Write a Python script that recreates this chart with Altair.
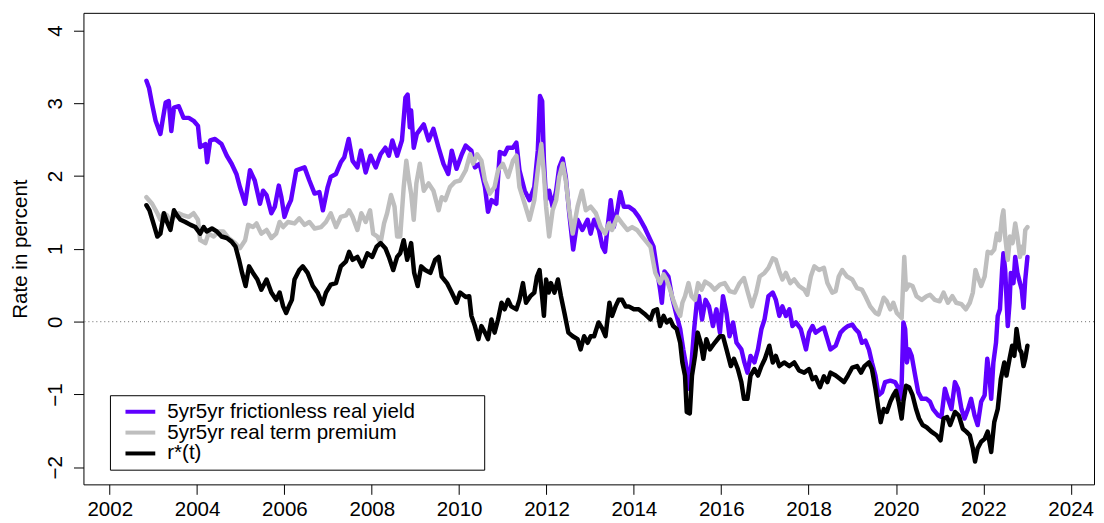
import altair as alt
import pandas as pd

# ---- data ----
fy_years = [2002.84, 2002.90, 2002.97, 2003.05, 2003.16, 2003.22, 2003.28, 2003.35, 2003.41, 2003.47,
            2003.58, 2003.69, 2003.81, 2003.92, 2004.02, 2004.07, 2004.19, 2004.23, 2004.30, 2004.41,
            2004.56, 2004.68, 2004.79, 2004.90, 2004.98, 2005.10, 2005.21, 2005.32, 2005.44, 2005.51,
            2005.59, 2005.70, 2005.78, 2005.87, 2005.93, 2006.00, 2006.08, 2006.15, 2006.27, 2006.46,
            2006.57, 2006.69, 2006.80, 2006.88, 2006.99, 2007.06, 2007.18, 2007.29, 2007.37, 2007.47,
            2007.56, 2007.67, 2007.75, 2007.86, 2007.97, 2008.09, 2008.20, 2008.31, 2008.39, 2008.47,
            2008.58, 2008.69, 2008.77, 2008.82, 2008.87, 2008.90, 2008.96, 2009.03, 2009.19, 2009.30,
            2009.41, 2009.53, 2009.64, 2009.75, 2009.83, 2009.94, 2010.06, 2010.15, 2010.28, 2010.36,
            2010.47, 2010.59, 2010.66, 2010.74, 2010.85, 2010.93, 2011.04, 2011.11, 2011.23, 2011.31,
            2011.38, 2011.50, 2011.61, 2011.72, 2011.80, 2011.85, 2011.90, 2011.94, 2011.99, 2012.06,
            2012.14, 2012.22, 2012.29, 2012.37, 2012.44, 2012.52, 2012.61, 2012.71, 2012.82, 2012.94,
            2013.01, 2013.09, 2013.20, 2013.28, 2013.34, 2013.39, 2013.47, 2013.54, 2013.62, 2013.69,
            2013.77, 2013.88, 2014.00, 2014.11, 2014.24, 2014.38, 2014.45, 2014.53, 2014.60, 2014.64,
            2014.70, 2014.79, 2014.87, 2014.98, 2015.06, 2015.13, 2015.21, 2015.26, 2015.32, 2015.38,
            2015.44, 2015.49, 2015.56, 2015.64, 2015.72, 2015.81, 2015.89, 2015.97, 2016.04, 2016.12,
            2016.19, 2016.27, 2016.35, 2016.46, 2016.53, 2016.60, 2016.67, 2016.76, 2016.84, 2016.92,
            2016.99, 2017.08, 2017.18, 2017.25, 2017.33, 2017.40, 2017.48, 2017.56, 2017.63, 2017.71,
            2017.82, 2017.94, 2018.01, 2018.09, 2018.16, 2018.28, 2018.35, 2018.43, 2018.50, 2018.62,
            2018.73, 2018.81, 2018.90, 2019.00, 2019.07, 2019.15, 2019.22, 2019.30, 2019.38, 2019.45,
            2019.53, 2019.60, 2019.68, 2019.75, 2019.87, 2019.98, 2020.06, 2020.12, 2020.17, 2020.21,
            2020.25, 2020.30, 2020.36, 2020.44, 2020.51, 2020.59, 2020.70, 2020.78, 2020.85, 2020.97,
            2021.04, 2021.12, 2021.19, 2021.27, 2021.35, 2021.42, 2021.50, 2021.57, 2021.65, 2021.72,
            2021.80, 2021.87, 2021.95, 2022.03, 2022.09, 2022.14, 2022.18, 2022.23, 2022.29, 2022.33,
            2022.38, 2022.43, 2022.46, 2022.50, 2022.56, 2022.60, 2022.63, 2022.69, 2022.73, 2022.78,
            2022.84, 2022.88, 2022.92, 2022.96, 2023.01]
fy_vals = [3.31, 3.21, 2.99, 2.76, 2.58, 2.80, 3.01, 3.03, 2.62, 2.94,
           2.96, 2.80, 2.80, 2.76, 2.69, 2.40, 2.44, 2.19, 2.49, 2.51,
           2.44, 2.28, 2.17, 2.03, 1.85, 1.62, 2.08, 1.94, 1.62, 1.80,
           1.74, 1.49, 1.58, 1.87, 1.71, 1.44, 1.58, 1.67, 2.08, 2.12,
           1.94, 1.76, 1.78, 1.53, 1.85, 1.99, 2.03, 2.19, 2.26, 2.51,
           2.21, 2.12, 2.35, 2.05, 2.28, 2.12, 2.30, 2.39, 2.28, 2.49,
           2.28, 2.49, 3.08, 3.12, 2.67, 2.90, 2.39, 2.58, 2.71, 2.49,
           2.65, 2.39, 2.17, 2.03, 2.35, 2.10, 2.30, 2.42, 2.35, 2.12,
           2.17, 1.85, 1.51, 1.67, 1.62, 2.33, 2.30, 2.39, 2.39, 2.46,
           2.08, 1.80, 1.67, 1.85, 2.35, 3.10, 3.03, 2.21, 1.67, 1.80,
           1.58, 1.80, 2.12, 2.24, 1.99, 1.49, 0.99, 1.40, 1.26, 1.40,
           1.21, 1.40, 1.26, 1.03, 0.96, 1.26, 1.67, 1.30, 1.53, 1.78,
           1.58, 1.58, 1.53, 1.44, 1.30, 1.12, 1.03, 0.71, 0.44, 0.26,
           0.69, 0.62, 0.35, 0.08, -0.10, -0.38, -0.65, -0.92, -0.56, -0.10,
           0.26, 0.35, 0.03, 0.30, 0.21, -0.06, 0.17, -0.15, 0.35, 0.12,
           -0.20, -0.01, -0.29, -0.38, -0.56, -0.70, -0.47, -0.56, -0.38, -0.10,
           0.03, 0.35, 0.40, 0.30, 0.08, 0.21, 0.08, 0.17, -0.06, -0.01,
           -0.10, -0.38, -0.15, -0.06, -0.15, -0.10, -0.08, -0.24, -0.38, -0.33,
           -0.15, -0.10, -0.06, -0.04, -0.10, -0.15, -0.29, -0.26, -0.38, -0.56,
           -0.74, -1.01, -0.97, -0.83, -0.81, -0.83, -0.92, -1.06, -0.01, -0.10,
           -0.56, -0.38, -0.47, -0.74, -0.97, -1.06, -1.06, -1.10, -1.20, -1.29,
           -1.31, -0.92, -1.06, -1.20, -0.83, -0.92, -1.20, -1.33, -1.20, -1.06,
           -1.29, -1.42, -1.10, -1.01, -0.51, -0.74, -1.06, -0.56, -0.29, 0.08,
           0.17, 0.71, 0.94, 0.71, -0.06, 0.26, 0.67, 0.53, 0.89, 0.67,
           0.53, 0.44, 0.19, 0.58, 0.89]

tp_years = [2002.84, 2002.97, 2003.09, 2003.16, 2003.24, 2003.31, 2003.39, 2003.47, 2003.58, 2003.69,
            2003.81, 2003.92, 2004.02, 2004.07, 2004.19, 2004.26, 2004.38, 2004.49, 2004.60, 2004.72,
            2004.87, 2004.98, 2005.10, 2005.17, 2005.28, 2005.36, 2005.47, 2005.59, 2005.70, 2005.81,
            2005.89, 2005.97, 2006.08, 2006.23, 2006.34, 2006.46, 2006.57, 2006.69, 2006.84, 2006.95,
            2007.06, 2007.18, 2007.29, 2007.41, 2007.48, 2007.56, 2007.67, 2007.76, 2007.86, 2007.96,
            2008.03, 2008.13, 2008.20, 2008.28, 2008.35, 2008.44, 2008.52, 2008.58, 2008.65, 2008.73,
            2008.79, 2008.85, 2008.90, 2008.96, 2009.02, 2009.10, 2009.19, 2009.30, 2009.41, 2009.53,
            2009.60, 2009.68, 2009.79, 2009.90, 2010.02, 2010.15, 2010.25, 2010.32, 2010.41, 2010.51,
            2010.59, 2010.70, 2010.81, 2010.89, 2011.00, 2011.12, 2011.23, 2011.31, 2011.38, 2011.50,
            2011.61, 2011.72, 2011.80, 2011.88, 2011.94, 2011.99, 2012.06, 2012.14, 2012.22, 2012.29,
            2012.37, 2012.44, 2012.52, 2012.60, 2012.71, 2012.81, 2012.90, 2013.01, 2013.13, 2013.24,
            2013.34, 2013.43, 2013.50, 2013.62, 2013.73, 2013.85, 2013.96, 2014.07, 2014.19, 2014.27,
            2014.38, 2014.49, 2014.60, 2014.68, 2014.75, 2014.83, 2014.90, 2014.98, 2015.06, 2015.11,
            2015.17, 2015.25, 2015.32, 2015.40, 2015.47, 2015.55, 2015.63, 2015.74, 2015.85, 2015.97,
            2016.08, 2016.19, 2016.31, 2016.42, 2016.52, 2016.61, 2016.70, 2016.80, 2016.88, 2016.99,
            2017.08, 2017.18, 2017.25, 2017.33, 2017.40, 2017.48, 2017.58, 2017.67, 2017.78, 2017.90,
            2017.97, 2018.05, 2018.13, 2018.24, 2018.35, 2018.43, 2018.54, 2018.62, 2018.69, 2018.77,
            2018.88, 2019.00, 2019.11, 2019.22, 2019.30, 2019.41, 2019.53, 2019.60, 2019.72, 2019.79,
            2019.87, 2019.94, 2020.02, 2020.13, 2020.19, 2020.23, 2020.30, 2020.38, 2020.47, 2020.59,
            2020.70, 2020.78, 2020.89, 2021.00, 2021.09, 2021.19, 2021.29, 2021.38, 2021.50, 2021.60,
            2021.69, 2021.76, 2021.82, 2021.87, 2021.95, 2022.03, 2022.10, 2022.18, 2022.25, 2022.31,
            2022.37, 2022.43, 2022.46, 2022.50, 2022.56, 2022.61, 2022.67, 2022.73, 2022.78, 2022.84,
            2022.88, 2022.92, 2022.96, 2023.01]
tp_vals = [1.71, 1.62, 1.49, 1.40, 1.49, 1.46, 1.37, 1.44, 1.49, 1.46,
           1.44, 1.49, 1.40, 1.12, 1.08, 1.21, 1.17, 1.24, 1.24, 1.15,
           1.08, 1.01, 1.12, 1.33, 1.30, 1.35, 1.21, 1.26, 1.15, 1.21,
           1.37, 1.30, 1.37, 1.35, 1.42, 1.33, 1.37, 1.28, 1.30, 1.37,
           1.49, 1.30, 1.44, 1.46, 1.53, 1.44, 1.26, 1.49, 1.37, 1.53,
           1.21, 1.17, 1.08, 1.35, 1.49, 1.74, 1.58, 1.17, 1.17, 1.85,
           2.21, 1.94, 1.76, 1.40, 1.90, 2.17, 1.80, 1.90, 1.80, 1.53,
           1.71, 1.67, 1.85, 1.92, 1.94, 2.08, 2.30, 2.17, 2.30, 2.21,
           1.94, 1.76, 1.85, 2.08, 2.17, 1.99, 2.21, 2.28, 1.85, 1.62,
           1.40, 1.67, 2.08, 2.44, 2.03, 1.58, 1.17, 1.53, 1.67, 1.99,
           2.17, 1.94, 1.53, 1.21, 1.58, 1.80, 1.53, 1.58, 1.49, 1.30,
           1.21, 1.35, 1.26, 1.44, 1.35, 1.26, 1.30, 1.26, 1.17, 1.11,
           1.03, 0.67, 0.53, 0.65, 0.58, 0.44, 0.30, 0.17, 0.08, 0.26,
           0.35, 0.53, 0.35, 0.30, 0.53, 0.44, 0.55, 0.51, 0.44, 0.51,
           0.53, 0.42, 0.40, 0.53, 0.60, 0.40, 0.21, 0.40, 0.62, 0.67,
           0.74, 0.87, 0.85, 0.69, 0.58, 0.67, 0.53, 0.58, 0.49, 0.44,
           0.37, 0.62, 0.76, 0.71, 0.74, 0.53, 0.40, 0.42, 0.62, 0.71,
           0.62, 0.58, 0.46, 0.44, 0.35, 0.21, 0.12, 0.10, 0.33, 0.28,
           0.17, 0.26, 0.12, 0.05, 0.89, 0.44, 0.51, 0.49, 0.35, 0.30,
           0.35, 0.37, 0.30, 0.28, 0.40, 0.26, 0.35, 0.26, 0.24, 0.17,
           0.26, 0.40, 0.71, 0.62, 0.49, 0.62, 0.96, 0.94, 0.99, 1.21,
           1.12, 1.44, 1.53, 1.17, 0.85, 1.17, 1.08, 1.35, 1.17, 0.89,
           1.03, 0.94, 1.26, 1.30]

rs_years = [2002.84, 2002.91, 2002.99, 2003.09, 2003.16, 2003.24, 2003.31, 2003.39, 2003.47, 2003.54,
            2003.62, 2003.73, 2003.85, 2003.96, 2004.07, 2004.15, 2004.22, 2004.34, 2004.45, 2004.56,
            2004.68, 2004.79, 2004.88, 2004.96, 2005.03, 2005.11, 2005.19, 2005.28, 2005.38, 2005.47,
            2005.59, 2005.70, 2005.81, 2005.89, 2005.97, 2006.04, 2006.10, 2006.17, 2006.23, 2006.34,
            2006.42, 2006.53, 2006.65, 2006.76, 2006.87, 2006.95, 2007.06, 2007.18, 2007.29, 2007.41,
            2007.48, 2007.56, 2007.67, 2007.78, 2007.90, 2008.01, 2008.11, 2008.20, 2008.31, 2008.39,
            2008.49, 2008.58, 2008.65, 2008.73, 2008.81, 2008.90, 2008.97, 2009.05, 2009.13, 2009.22,
            2009.34, 2009.45, 2009.53, 2009.60, 2009.72, 2009.83, 2009.94, 2010.02, 2010.15, 2010.23,
            2010.28, 2010.36, 2010.44, 2010.51, 2010.59, 2010.66, 2010.74, 2010.81, 2010.89, 2010.97,
            2011.04, 2011.12, 2011.19, 2011.31, 2011.38, 2011.46, 2011.53, 2011.63, 2011.72, 2011.78,
            2011.84, 2011.89, 2011.94, 2011.99, 2012.05, 2012.10, 2012.18, 2012.26, 2012.33, 2012.41,
            2012.50, 2012.60, 2012.71, 2012.78, 2012.86, 2012.94, 2013.01, 2013.09, 2013.19, 2013.28,
            2013.35, 2013.44, 2013.50, 2013.58, 2013.65, 2013.73, 2013.81, 2013.88, 2014.00, 2014.11,
            2014.24, 2014.38, 2014.45, 2014.53, 2014.60, 2014.68, 2014.75, 2014.83, 2014.90, 2014.98,
            2015.06, 2015.11, 2015.17, 2015.21, 2015.28, 2015.33, 2015.40, 2015.46, 2015.53, 2015.59,
            2015.66, 2015.74, 2015.85, 2015.97, 2016.04, 2016.12, 2016.22, 2016.29, 2016.38, 2016.46,
            2016.52, 2016.60, 2016.67, 2016.76, 2016.84, 2016.92, 2017.00, 2017.10, 2017.18, 2017.25,
            2017.33, 2017.44, 2017.56, 2017.67, 2017.78, 2017.90, 2018.01, 2018.09, 2018.16, 2018.26,
            2018.35, 2018.43, 2018.50, 2018.62, 2018.73, 2018.81, 2018.90, 2019.00, 2019.11, 2019.20,
            2019.28, 2019.38, 2019.45, 2019.53, 2019.60, 2019.65, 2019.72, 2019.79, 2019.87, 2019.94,
            2020.00, 2020.06, 2020.13, 2020.17, 2020.23, 2020.30, 2020.38, 2020.46, 2020.53, 2020.61,
            2020.70, 2020.81, 2020.93, 2021.02, 2021.09, 2021.17, 2021.24, 2021.35, 2021.44, 2021.53,
            2021.61, 2021.69, 2021.76, 2021.81, 2021.87, 2021.95, 2022.03, 2022.10, 2022.18, 2022.25,
            2022.33, 2022.40, 2022.48, 2022.53, 2022.60, 2022.66, 2022.71, 2022.76, 2022.83, 2022.87,
            2022.92, 2022.96, 2023.01]
rs_vals = [1.60, 1.53, 1.37, 1.17, 1.21, 1.49, 1.37, 1.26, 1.53, 1.46,
           1.40, 1.37, 1.33, 1.30, 1.21, 1.30, 1.24, 1.28, 1.24, 1.17,
           1.15, 1.10, 1.03, 0.85, 0.67, 0.49, 0.76, 0.67, 0.58, 0.44,
           0.58, 0.40, 0.30, 0.40, 0.21, 0.12, 0.21, 0.30, 0.58, 0.71,
           0.76, 0.67, 0.49, 0.40, 0.24, 0.40, 0.51, 0.53, 0.76, 0.83,
           0.96, 0.85, 0.89, 0.76, 0.94, 0.89, 1.03, 1.08, 1.01, 0.89,
           0.71, 0.89, 0.94, 1.12, 0.85, 1.08, 0.67, 0.49, 0.76, 0.71,
           0.67, 0.85, 0.89, 0.62, 0.53, 0.40, 0.26, 0.40, 0.34, 0.35,
           0.08, -0.06, -0.24, -0.06, -0.15, -0.24, 0.03, -0.15, 0.03, 0.26,
           0.17, 0.30, 0.21, 0.17, 0.30, 0.53, 0.26, 0.35, 0.40, 0.62,
           0.71, 0.40, 0.08, 0.58, 0.40, 0.53, 0.40, 0.58, 0.35, 0.12,
           -0.15, -0.20, -0.24, -0.38, -0.20, -0.29, -0.20, -0.20, -0.01, -0.10,
           -0.20, 0.26, 0.08, 0.21, 0.30, 0.30, 0.21, 0.21, 0.17, 0.17,
           0.11, 0.03, 0.15, 0.17, -0.06, 0.08, -0.01, 0.03, -0.06, -0.10,
           -0.29, -0.56, -0.74, -1.24, -1.26, -0.74, -0.47, -0.15, -0.29, -0.51,
           -0.24, -0.38, -0.29, -0.20, -0.20, -0.38, -0.61, -0.51, -0.65, -0.83,
           -1.06, -1.06, -0.74, -0.65, -0.74, -0.61, -0.51, -0.33, -0.56, -0.47,
           -0.61, -0.56, -0.61, -0.56, -0.67, -0.70, -0.65, -0.79, -0.76, -0.90,
           -0.75, -0.83, -0.70, -0.74, -0.79, -0.83, -0.74, -0.63, -0.61, -0.70,
           -0.61, -0.56, -0.65, -0.92, -1.20, -1.38, -1.20, -1.24, -1.10, -1.01,
           -0.95, -1.10, -1.33, -1.10, -0.88, -0.90, -1.01, -1.20, -1.33, -1.42,
           -1.45, -1.51, -1.56, -1.63, -1.33, -1.31, -1.42, -1.24, -1.29, -1.47,
           -1.51, -1.56, -1.74, -1.92, -1.74, -1.65, -1.61, -1.51, -1.79, -1.38,
           -1.20, -0.79, -0.56, -0.74, -0.51, -0.33, -0.47, -0.10, -0.38, -0.42,
           -0.61, -0.51, -0.33]

series_names = ["5yr5yr frictionless real yield", "5yr5yr real term premium", "r*(t)"]
series_colors = ["#6000FF", "#BEBEBE", "#000000"]
x_ticks = [2002, 2004, 2006, 2008, 2010, 2012, 2014, 2016, 2018, 2020, 2022, 2024]
y_ticks = [-2, -1, 0, 1, 2, 3, 4]
zero_line = [0]

FONT = "Liberation Sans, Arial, Helvetica, sans-serif"
FS = 20.7
# trailing no-break spaces widen the legend box like R's; the zero-width space keeps them from being trimmed
LABEL_PAD = "\u00a0" * 11 + "\u200b"

df_fy = pd.DataFrame({"year": fy_years, "rate": fy_vals, "series": series_names[0]})
df_tp = pd.DataFrame({"year": tp_years, "rate": tp_vals, "series": series_names[1]})
df_rs = pd.DataFrame({"year": rs_years, "rate": rs_vals, "series": series_names[2]})
df_zero = pd.DataFrame({"rate": zero_line})

x_enc = alt.X(
    "year:Q",
    title=None,
    scale=alt.Scale(domain=[2001.398, 2024.534], nice=False, zero=False),
    axis=alt.Axis(values=x_ticks, format="d", labelBaseline="alphabetic", labelAlign="center",
                  labelPadding=21.5, labelFlush=False, labelOverlap=False),
)
y_enc = alt.Y(
    "rate:Q",
    scale=alt.Scale(domain=[-2.235, 4.243], nice=False, zero=False),
    axis=alt.Axis(values=y_ticks, title="Rate in percent", labelAngle=270, labelAlign="center",
                  labelBaseline="alphabetic", labelPadding=12.3, labelFlush=False, labelOverlap=False,
                  titleAngle=270, titleX=-57.5, titleY=237.5, titleAlign="center",
                  titleBaseline="alphabetic"),
)
color_enc = alt.Color(
    "series:N",
    scale=alt.Scale(domain=series_names, range=series_colors),
    legend=alt.Legend(title=None, orient="none", legendX=26.7, legendY=385.2, direction="vertical",
                      strokeColor="black", fillColor="white", padding=6.3, cornerRadius=0,
                      symbolType="M-3,0H3", symbolStrokeWidth=4, symbolSize=100, symbolOffset=14,
                      labelOffset=16.7, labelFont=FONT, labelFontSize=FS, labelColor="black",
                      labelLimit=0, rowPadding=-1.7,
                      labelExpr="datum.label + '" + LABEL_PAD + "'"),
)

zero = alt.Chart(df_zero).mark_rule(color="#666666", strokeDash=[1, 3], strokeWidth=1).encode(y=y_enc)


def series_line(df):
    return alt.Chart(df).mark_line(strokeWidth=4.5, strokeCap="round", strokeJoin="round", clip=True).encode(
        x=x_enc, y=y_enc, color=color_enc
    )


chart = (
    alt.layer(zero, series_line(df_fy), series_line(df_tp), series_line(df_rs))
    .properties(width=1018, height=475, autosize=alt.AutoSizeParams(type="none"),
                padding={"left": 76, "top": 3, "right": 2, "bottom": 33})
    .configure_view(stroke="black", strokeWidth=1)
    .configure_axis(domain=False, grid=False, tickColor="black", tickSize=10, tickWidth=1,
                    labelColor="black", labelFont=FONT, labelFontSize=FS,
                    titleFont=FONT, titleFontSize=FS, titleFontWeight="normal", titleColor="black")
)

chart.save("out.html", embed_options={"renderer": "svg", "actions": False})
